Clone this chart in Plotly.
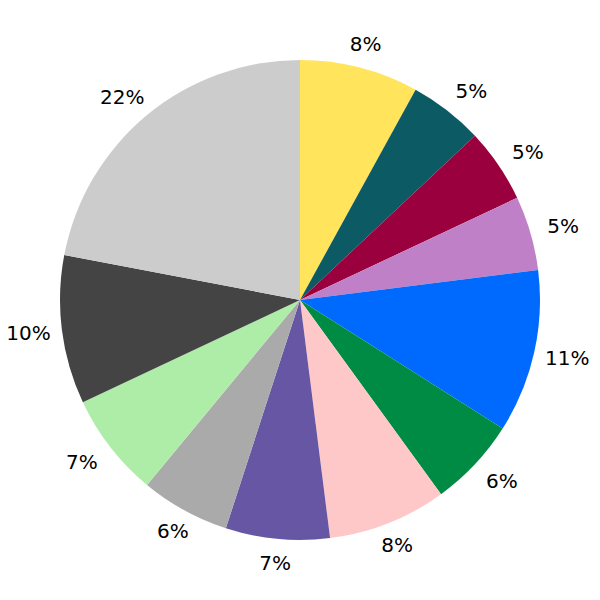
import math
import plotly.graph_objects as go

labels = ["A", "B", "C", "D", "E", "F", "G", "H", "I", "J", "K", "L"]
values = [8, 5, 5, 5, 11, 6, 8, 7, 6, 7, 10, 22]
colors = ["#FFE45C", "#0B5A64", "#99003D", "#BF80C8", "#006AFF", "#008B45",
          "#FFC8C8", "#6656A3", "#AAAAAA", "#AEEDA8", "#444444", "#CCCCCC"]

# label text templates: labels on the left/right flanks get a little padding
# on their inner side so they sit further out horizontally
total = sum(values)
pad = "\u00a0" * 3
templates = []
cum = 0
for v in values:
    mid = (cum + v / 2) / total * 2 * math.pi
    s = math.sin(mid)
    if s > 0.55:
        templates.append(pad + "%{percent:.0%}")
    elif s < -0.55:
        templates.append("%{percent:.0%}" + pad)
    else:
        templates.append("%{percent:.0%}")
    cum += v

common = dict(labels=labels, values=values, sort=False, direction="clockwise",
              rotation=0, showlegend=False, automargin=False)

fig = go.Figure()
# visible slices
fig.add_trace(go.Pie(
    **common,
    marker=dict(colors=colors, line=dict(width=0)),
    textinfo="none",
    domain=dict(x=[0.1, 0.9], y=[0.1, 0.9]),
))
# transparent ring around the pie that carries the percentage labels
label_font = dict(family="DejaVu Sans", size=20, color="#000000")
fig.add_trace(go.Pie(
    **common,
    hole=0.76,
    marker=dict(colors=["rgba(0,0,0,0)"] * len(values), line=dict(width=0)),
    textinfo="percent",
    textposition="inside",
    insidetextorientation="horizontal",
    texttemplate=templates,
    textfont=label_font,
    insidetextfont=label_font,
    hoverinfo="skip",
    domain=dict(x=[0, 1], y=[0, 1]),
))
fig.update_layout(
    width=600, height=600,
    margin=dict(l=0, r=0, t=0, b=0),
    paper_bgcolor="white",
    font=dict(family="DejaVu Sans"),
)
fig.write_html("out.html", config={"displayModeBar": False},
               post_script="document.body.style.margin='0';")
